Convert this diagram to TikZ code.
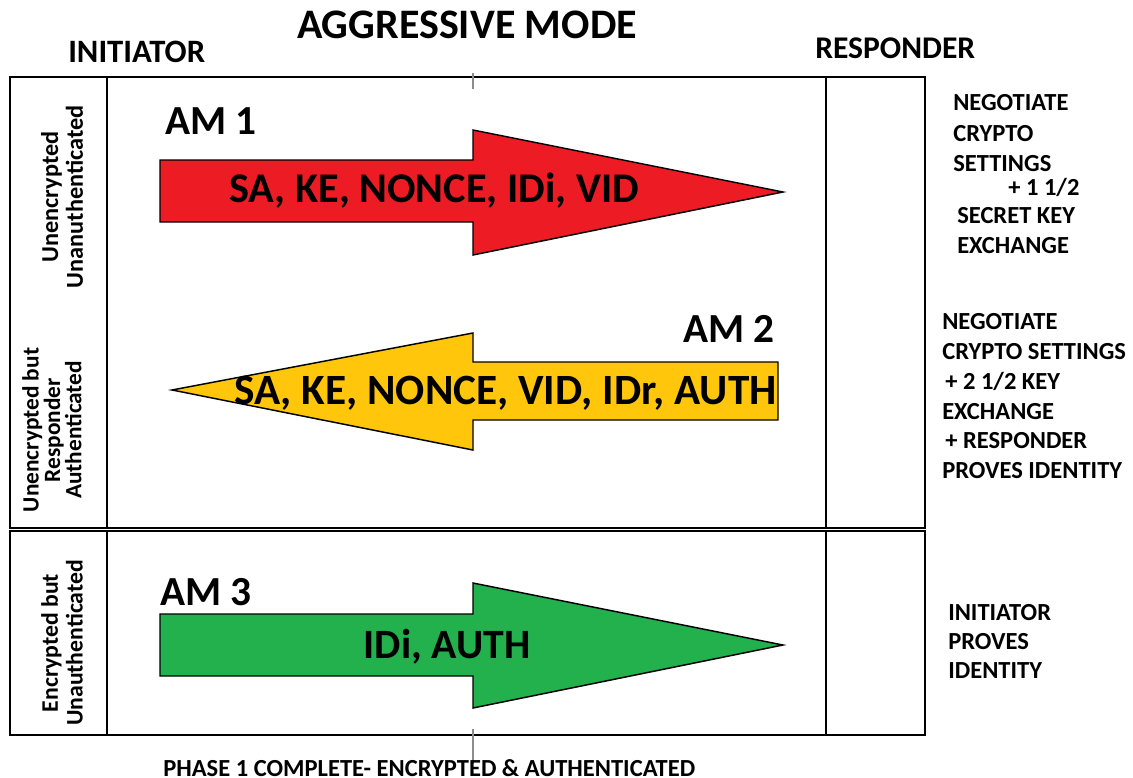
\documentclass[tikz,border=0pt]{standalone}
\usepackage{fontspec}
\setmainfont{Carlito}
\definecolor{amred}{HTML}{ED1C24}
\definecolor{amyellow}{HTML}{FFC60B}
\definecolor{amgreen}{HTML}{22B14C}
\definecolor{tickgray}{HTML}{8C8C8C}
\begin{document}
\begin{tikzpicture}[x=0.75pt,y=-0.75pt,
  frame/.style={draw=black, line width=1.4pt},
  arrowshape/.style={draw=black, line width=1.1pt, line join=miter},
  tick/.style={draw=tickgray, line width=1.3pt},
  lbl/.style={inner sep=0pt, font=\bfseries\fontsize{#1}{#1}\selectfont},
  lbl/.default=31,
  side/.style={inner sep=0pt, anchor=base west, font=\bfseries\fontsize{18.4}{20}\selectfont},
  vert/.style 2 args={inner sep=0pt, rotate=90, align=center, font=\bfseries\fontsize{#1}{#2}\selectfont},
]
\useasboundingbox (0,0) rectangle (1133,778);

% frames
\draw[frame] (10,77) rectangle (925,528);
\draw[frame] (107,77) -- (107,528);
\draw[frame] (826,77) -- (826,528);
\draw[frame] (10,531) rectangle (925,735);
\draw[frame] (107,531) -- (107,735);
\draw[frame] (826,531) -- (826,735);

% center ticks
\coordinate (t1a) at (473,73);
\coordinate (t1b) at (473,89);
\coordinate (t2a) at (473,729);
\coordinate (t2b) at (473,764);
\draw[tick] (t1a) -- (t1b);
\draw[tick] (t2a) -- (t2b);

% headings
\node[lbl=31.5, anchor=base] (title) at (467,38) {AGGRESSIVE MODE};
\node[lbl=24.5, anchor=base west] (init) at (68,62) {INITIATOR};
\node[lbl=23.7, anchor=base west] (resp) at (815,58) {RESPONDER};

% AM1 red arrow
\draw[arrowshape, fill=amred] (160,160) -- (473,160) -- (473,130) -- (783,192) -- (473,255) -- (473,222) -- (160,222) -- cycle;
\node[lbl, anchor=base west] (am1) at (165,134) {AM 1};
\node[lbl=31.7, anchor=base west] (m1) at (229,202) {SA, KE, NONCE, IDi, VID};

% AM2 yellow arrow
\draw[arrowshape, fill=amyellow] (778,362) -- (473,362) -- (473,333) -- (172,390) -- (473,450) -- (473,420) -- (778,420) -- cycle;
\node[lbl, anchor=base east] (am2) at (775,342) {AM 2};
\node[lbl=32.4, anchor=base east] (m2) at (777,404) {SA, KE, NONCE, VID, IDr, AUTH};

% AM3 green arrow
\draw[arrowshape, fill=amgreen] (160,614) -- (473,614) -- (473,583) -- (783,645) -- (473,708) -- (473,676) -- (160,676) -- cycle;
\node[lbl, anchor=base west] (am3) at (160,605) {AM 3};
\node[lbl=31.3, anchor=base] (m3) at (447,658) {IDi, AUTH};

% left vertical labels
\node[vert={18.2}{18.5}] (v1) at (62,197) {Unencrypted\\Unanuthenticated};
\node[vert={17.5}{14.5}] (v2) at (52,430) {Unencrypted but\\Responder\\Authenticated};
\node[vert={17.8}{18.5}] (v3) at (62,643) {Encrypted but\\Unauthenticated};

% right side descriptions
\node[side] (r1a) at (953,110) {NEGOTIATE};
\node[side] (r1b) at (953,141) {CRYPTO};
\node[side] (r1c) at (953,171) {SETTINGS};
\node[side] (r1d) at (1008,195) {+ 1 1/2};
\node[side] (r1e) at (957,223) {SECRET KEY};
\node[side] (r1f) at (957,253) {EXCHANGE};

\node[side] (r2a) at (942,329) {NEGOTIATE};
\node[side] (r2b) at (942,359) {CRYPTO SETTINGS};
\node[side] (r2c) at (945,389) {+ 2 1/2 KEY};
\node[side] (r2d) at (942,419) {EXCHANGE};
\node[side] (r2e) at (945,448) {+ RESPONDER};
\node[side] (r2f) at (942,478) {PROVES IDENTITY};

\node[side] (r3a) at (948,620) {INITIATOR};
\node[side] (r3b) at (948,649) {PROVES};
\node[side] (r3c) at (948,678) {IDENTITY};

% bottom caption
\node[lbl=18.4, anchor=base west] (phase) at (163,776) {PHASE 1 COMPLETE- ENCRYPTED \& AUTHENTICATED};
\end{tikzpicture}
\end{document}
